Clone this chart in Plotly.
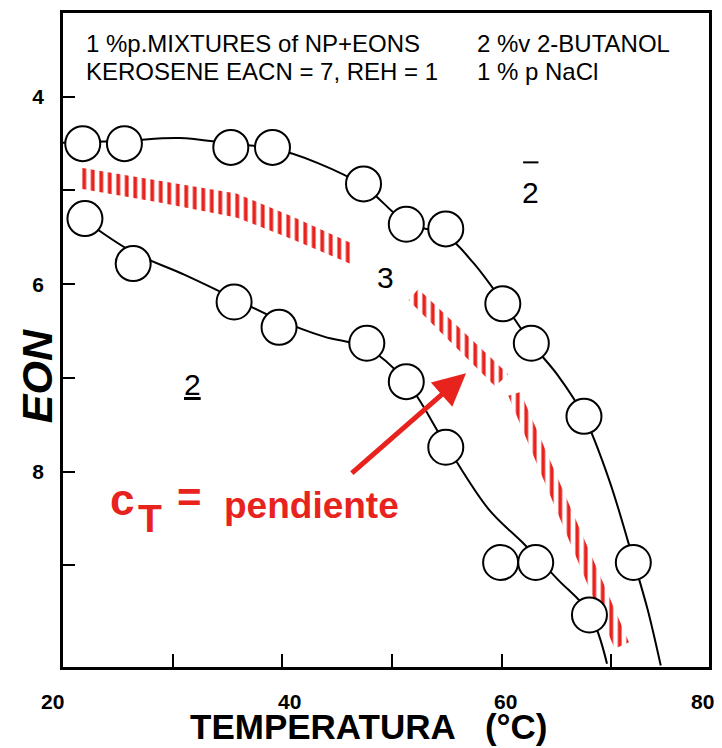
import plotly.graph_objects as go

# ---------------- data ----------------
upper_T = [21.8, 25.6, 35.3, 39.1, 47.4, 51.3, 54.9, 60.1, 62.7, 67.5, 72.0]
upper_EON = [4.50, 4.50, 4.54, 4.54, 4.93, 5.36, 5.41, 6.21, 6.63, 7.41, 8.97]
lower_T = [22.0, 26.4, 35.6, 39.7, 47.7, 51.3, 54.9, 59.9, 63.1, 68.0]
lower_EON = [5.30, 5.78, 6.19, 6.46, 6.63, 7.04, 7.74, 8.97, 8.97, 9.53]

upper_curve_T = [20.0, 25.6, 30.6, 35.3, 39.1, 43.3, 47.4, 51.3, 54.9, 57.4, 60.1,
                 62.7, 65.1, 67.5, 69.8, 72.0, 73.3, 74.5]
upper_curve_EON = [4.49, 4.47, 4.44, 4.50, 4.55, 4.71, 4.95, 5.34, 5.48, 5.77, 6.19,
                   6.63, 6.97, 7.41, 8.09, 8.94, 9.47, 10.07]
lower_curve_T = [22.0, 26.4, 31.1, 35.6, 39.7, 43.8, 47.7, 51.3, 54.9, 58.8, 62.1,
                 65.1, 68.0, 69.6]
lower_curve_EON = [5.32, 5.66, 5.90, 6.15, 6.38, 6.56, 6.68, 7.04, 7.71, 8.40, 8.78,
                   9.15, 9.51, 10.05]

band1_T = [21.5, 28.8, 35.8, 40.9, 46.3]
band1_top = [4.755, 4.894, 5.032, 5.277, 5.564]
band1_bot = [4.979, 5.128, 5.287, 5.521, 5.787]
band2a_T = [52.4, 60.6, 59.4, 51.5]
band2a_EON = [6.05, 6.96, 7.09, 6.17]
band2b_T = [61.7, 71.6, 70.3, 60.6]
band2b_EON = [7.15, 9.82, 9.89, 7.19]

arrow_T = [46.2, 56.75]
arrow_EON = [8.03, 6.95]

y_ticks = [4, 5, 6, 7, 8, 9]
y_ticklabels = ["4", "", "6", "", "8", ""]
x_ticks = [30, 40, 50, 60, 70]
x_labels = ["20", "40", "60", "80"]

RED = "#e8231e"
FONT = "Liberation Sans, Arial, sans-serif"

fig = go.Figure()

pattern = dict(shape="|", fgcolor=RED, bgcolor="white", fgopacity=1,
               size=8.5, solidity=0.45)

# hatched bands
fig.add_trace(go.Scatter(
    x=band1_T + band1_T[::-1], y=band1_top + band1_bot[::-1],
    fill="toself", fillcolor="white", fillpattern=pattern,
    mode="lines", line=dict(width=0), hoverinfo="skip", showlegend=False))
fig.add_trace(go.Scatter(
    x=band2a_T, y=band2a_EON, fill="toself", fillcolor="white",
    fillpattern=pattern, mode="lines", line=dict(width=0),
    hoverinfo="skip", showlegend=False))
fig.add_trace(go.Scatter(
    x=band2b_T, y=band2b_EON, fill="toself", fillcolor="white",
    fillpattern=pattern, mode="lines", line=dict(width=0),
    hoverinfo="skip", showlegend=False))

# curves
for cx, cy in [(upper_curve_T, upper_curve_EON), (lower_curve_T, lower_curve_EON)]:
    fig.add_trace(go.Scatter(x=cx, y=cy, mode="lines",
                             line=dict(color="black", width=2, shape="spline", smoothing=1),
                             hoverinfo="skip", showlegend=False))

# circles
for px, py in [(upper_T, upper_EON), (lower_T, lower_EON)]:
    fig.add_trace(go.Scatter(x=px, y=py, mode="markers",
                             marker=dict(size=35, color="white",
                                         line=dict(color="black", width=2)),
                             cliponaxis=False, showlegend=False))

TXT = dict(family=FONT, size=24, color="black")
ann = []
# top texts
ann += [
    dict(text="1 %p.MIXTURES of NP+EONS", x=0.032, y=0.953, xref="paper", yref="paper",
         xanchor="left", yanchor="middle", showarrow=False, font=TXT),
    dict(text="KEROSENE EACN = 7, REH = 1", x=0.032, y=0.911, xref="paper", yref="paper",
         xanchor="left", yanchor="middle", showarrow=False, font=TXT),
    dict(text="2 %v 2-BUTANOL", x=0.637, y=0.953, xref="paper", yref="paper",
         xanchor="left", yanchor="middle", showarrow=False, font=TXT),
    dict(text="1 % p NaCl", x=0.637, y=0.911, xref="paper", yref="paper",
         xanchor="left", yanchor="middle", showarrow=False, font=TXT),
]
# phase labels
ann += [
    dict(text="2", x=62.65, y=5.02, xref="x", yref="y", showarrow=False,
         font=dict(family=FONT, size=30, color="black")),
    dict(text="3", x=49.4, y=5.93, xref="x", yref="y", showarrow=False,
         font=dict(family=FONT, size=30, color="black")),
    dict(text="<u>2</u>", x=31.8, y=7.07, xref="x", yref="y", showarrow=False,
         font=dict(family=FONT, size=30, color="black")),
]
# red annotation
ann += [
    dict(text="<b>c</b>", x=25.35, y=8.30, xref="x", yref="y", showarrow=False,
         font=dict(family=FONT, size=44, color=RED)),
    dict(text="<b>T</b>", x=27.9, y=8.50, xref="x", yref="y", showarrow=False,
         font=dict(family=FONT, size=39, color=RED)),
    dict(text="<b>=</b>", x=31.5, y=8.28, xref="x", yref="y", showarrow=False,
         font=dict(family=FONT, size=42, color=RED)),
    dict(text="<b>pendiente</b>", x=42.7, y=8.36, xref="x", yref="y", showarrow=False,
         font=dict(family=FONT, size=37, color=RED)),
    dict(text="", x=arrow_T[1], y=arrow_EON[1], ax=arrow_T[0], ay=arrow_EON[0],
         xref="x", yref="y", axref="x", ayref="y", showarrow=True,
         arrowhead=2, arrowsize=1.3, arrowwidth=5, arrowcolor=RED, standoff=0),
]
# x tick labels (placed below the frame, as printed in the original)
for lab, xp in zip(x_labels, [-0.016, 0.35, 0.685, 0.99]):
    ann.append(dict(text=f"<b>{lab}</b>", x=xp, y=-0.052, xref="paper", yref="paper",
                    xanchor="center", yanchor="middle", showarrow=False,
                    font=dict(family=FONT, size=21, color="black")))
# axis titles
ann += [
    dict(text="<b>TEMPERATURA\u00a0\u00a0\u00a0(°C)</b>", x=0.473, y=-0.1237, xref="paper",
         yref="paper", xanchor="center", yanchor="bottom", showarrow=False,
         font=dict(family=FONT, size=35, color="black")),
    dict(text="<b><i>EON</i></b>", x=-0.04, y=0.445, xref="paper", yref="paper",
         xanchor="center", yanchor="middle", textangle=-90, showarrow=False,
         font=dict(family=FONT, size=43, color="black")),
]

# overbar of the "2" phase label
shapes = [dict(type="line", xref="x", yref="y", x0=61.95, x1=63.35, y0=4.70, y1=4.70,
               line=dict(color="black", width=2))]

fig.update_layout(
    width=722, height=748,
    margin=dict(l=63, r=10, t=12, b=81),
    paper_bgcolor="white", plot_bgcolor="white",
    annotations=ann, shapes=shapes,
    showlegend=False,
)
fig.update_xaxes(range=[20, 78.9], showgrid=False, zeroline=False,
                 showline=True, linecolor="black", linewidth=2.5, mirror=True,
                 tickmode="array", tickvals=x_ticks, ticks="inside", ticklen=13,
                 tickwidth=2, tickcolor="black", showticklabels=False)
fig.update_yaxes(range=[10.085, 3.106], showgrid=False, zeroline=False,
                 showline=True, linecolor="black", linewidth=2.5, mirror=True,
                 tickmode="array", tickvals=y_ticks,
                 ticktext=[f"<b>{t}</b>" if t else "" for t in y_ticklabels],
                 ticks="inside", ticklen=12, tickwidth=2, tickcolor="black",
                 tickfont=dict(family=FONT, size=21, color="black"),
                 ticklabelstandoff=12)

fig.write_html("out.html")
